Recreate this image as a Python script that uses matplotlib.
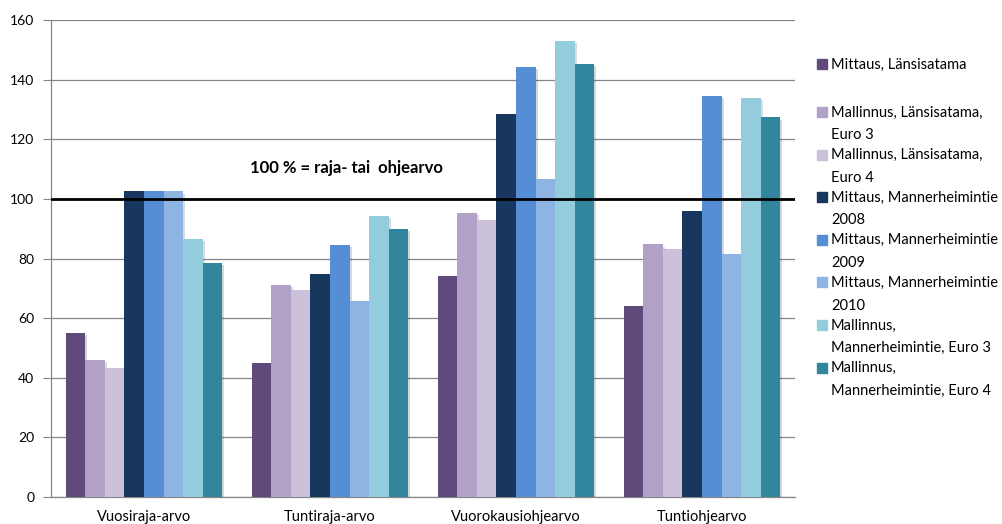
import numpy as np
import matplotlib.pyplot as plt
import matplotlib.patheffects as pe
from matplotlib.patches import Rectangle

plt.rcParams['font.family'] = ['Lato', 'DejaVu Sans']

categories = ['Vuosiraja-arvo', 'Tuntiraja-arvo', 'Vuorokausiohjearvo', 'Tuntiohjearvo']

series_names = [
    'Mittaus, Länsisatama',
    'Mallinnus, Länsisatama,\nEuro 3',
    'Mallinnus, Länsisatama,\nEuro 4',
    'Mittaus, Mannerheimintie\n2008',
    'Mittaus, Mannerheimintie\n2009',
    'Mittaus, Mannerheimintie\n2010',
    'Mallinnus,\nMannerheimintie, Euro 3',
    'Mallinnus,\nMannerheimintie, Euro 4',
]

mittaus_lansisatama = [55.0, 44.9, 74.1, 63.9]
mallinnus_lansisatama_e3 = [46.0, 71.1, 95.3, 84.7]
mallinnus_lansisatama_e4 = [43.2, 69.6, 92.8, 83.1]
mittaus_mannerheimintie_2008 = [102.5, 74.8, 128.5, 96.1]
mittaus_mannerheimintie_2009 = [102.5, 84.6, 144.4, 134.6]
mittaus_mannerheimintie_2010 = [102.5, 65.9, 106.8, 81.4]
mallinnus_mannerheimintie_e3 = [86.7, 94.4, 152.9, 133.8]
mallinnus_mannerheimintie_e4 = [78.5, 89.9, 145.2, 127.3]

all_series = [mittaus_lansisatama, mallinnus_lansisatama_e3, mallinnus_lansisatama_e4,
              mittaus_mannerheimintie_2008, mittaus_mannerheimintie_2009,
              mittaus_mannerheimintie_2010, mallinnus_mannerheimintie_e3,
              mallinnus_mannerheimintie_e4]

colors = ['#604A7B', '#B2A1C7', '#CCC1DA', '#17375E',
          '#558ED5', '#8EB4E3', '#93CDDD', '#31859C']

limit_value = 100

W, H = 1003, 524
fig = plt.figure(figsize=(W / 100, H / 100), dpi=100)
ax = fig.add_axes([51 / W, 1 - 497 / H, (795 - 51) / W, (497 - 20) / H])

n = len(all_series)
bar_w = 1 / (n + 1.5)
x = np.arange(len(categories))
shadow = [pe.SimplePatchShadow(offset=(1.5, -1.5), alpha=0.18), pe.Normal()]
for i, (vals, col) in enumerate(zip(all_series, colors)):
    pos = x + (i - (n - 1) / 2) * bar_w
    ax.bar(pos, vals, width=bar_w, color=col, zorder=3, path_effects=shadow)

# limit line with its caption
ax.axhline(limit_value, color='black', lw=2, zorder=4)
ax.text(0.57, 110.4, '100 % = raja- tai  ohjearvo', fontsize=12, fontweight='bold',
        va='center', ha='left')

ax.set_xlim(-0.5, len(categories) - 0.5)
ax.set_ylim(0, 160)
ax.set_yticks(np.arange(0, 161, 20))
ax.set_xticks(x)
ax.set_xticklabels(categories, fontsize=10.5)
ax.tick_params(axis='x', length=0, pad=9)
ax.tick_params(axis='y', length=6, width=0.8, color='#868686', labelsize=10, pad=6)
ax.yaxis.grid(True, color='#868686', lw=0.9)
ax.set_axisbelow(True)
for side in ['top', 'right']:
    ax.spines[side].set_visible(False)
for side in ['left', 'bottom']:
    ax.spines[side].set_color('#868686')
    ax.spines[side].set_linewidth(0.9)

# legend drawn by hand, marker beside the first line of each label
for i, (name, col) in enumerate(zip(series_names, colors)):
    yc = 64 if i == 0 else 112 + (i - 1) * 42.6
    fig.patches.append(Rectangle((817 / W, 1 - (yc + 5) / H), 10 / W, 10 / H,
                                 transform=fig.transFigure, color=col))
    fig.text(831 / W, 1 - (yc - 6.5) / H, name, fontsize=10.5, va='top', ha='left',
             linespacing=1.8)

fig.savefig('out.png', dpi=100)
